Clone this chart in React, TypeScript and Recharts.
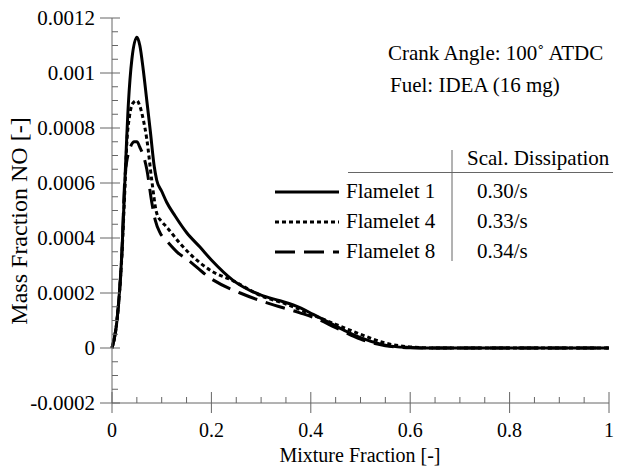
import React from 'react';
import { LineChart, Line, XAxis, YAxis } from 'recharts';

// Flamelet 1 (solid)
const flamelet1 = [
  { x: 0, y: 0 }, { x: 0.01, y: 0.0001 }, { x: 0.02, y: 0.00035 }, { x: 0.026, y: 0.00061 },
  { x: 0.033, y: 0.00089 }, { x: 0.04, y: 0.00105 }, { x: 0.05, y: 0.00113 }, { x: 0.056, y: 0.0011 },
  { x: 0.063, y: 0.00101 }, { x: 0.07, y: 0.0009 }, { x: 0.077, y: 0.00079 }, { x: 0.085, y: 0.00066 },
  { x: 0.09, y: 0.00061 }, { x: 0.1, y: 0.00057 }, { x: 0.11, y: 0.00053 }, { x: 0.127, y: 0.00048 },
  { x: 0.15, y: 0.00042 }, { x: 0.177, y: 0.000367 }, { x: 0.2, y: 0.00032 }, { x: 0.243, y: 0.000247 },
  { x: 0.3, y: 0.000192 }, { x: 0.338, y: 0.000172 }, { x: 0.378, y: 0.000147 }, { x: 0.405, y: 0.000122 },
  { x: 0.44, y: 0.00009 }, { x: 0.472, y: 0.00006 }, { x: 0.5, y: 0.000038 }, { x: 0.539, y: 0.000015 },
  { x: 0.57, y: 0.000005 }, { x: 0.6, y: 0.000002 }, { x: 0.65, y: 0 }, { x: 0.8, y: 0 }, { x: 1, y: 0 },
];

// Flamelet 4 (dotted)
const flamelet4 = [
  { x: 0, y: 0 }, { x: 0.01, y: 0.0001 }, { x: 0.02, y: 0.00034 }, { x: 0.026, y: 0.00058 },
  { x: 0.03, y: 0.00075 }, { x: 0.035, y: 0.00084 }, { x: 0.042, y: 0.00089 }, { x: 0.05, y: 0.0009 },
  { x: 0.056, y: 0.00088 }, { x: 0.063, y: 0.00083 }, { x: 0.07, y: 0.00076 }, { x: 0.08, y: 0.00061 },
  { x: 0.09, y: 0.00049 }, { x: 0.1, y: 0.00046 }, { x: 0.11, y: 0.00044 }, { x: 0.137, y: 0.00038 },
  { x: 0.177, y: 0.00031 }, { x: 0.2, y: 0.00028 }, { x: 0.243, y: 0.000245 }, { x: 0.3, y: 0.00019 },
  { x: 0.35, y: 0.00016 }, { x: 0.4, y: 0.000123 }, { x: 0.45, y: 0.000086 }, { x: 0.5, y: 0.00005 },
  { x: 0.55, y: 0.000018 }, { x: 0.6, y: 0.000004 }, { x: 0.65, y: 0 }, { x: 0.8, y: 0 }, { x: 1, y: 0 },
];

// Flamelet 8 (dashed)
const flamelet8 = [
  { x: 0, y: 0 }, { x: 0.01, y: 0.0001 }, { x: 0.02, y: 0.00035 }, { x: 0.026, y: 0.00062 },
  { x: 0.035, y: 0.00072 }, { x: 0.045, y: 0.00075 }, { x: 0.05, y: 0.00075 }, { x: 0.056, y: 0.00073 },
  { x: 0.063, y: 0.0007 }, { x: 0.07, y: 0.00065 }, { x: 0.08, y: 0.00053 }, { x: 0.087, y: 0.000465 },
  { x: 0.097, y: 0.000418 }, { x: 0.11, y: 0.00039 }, { x: 0.131, y: 0.000349 }, { x: 0.153, y: 0.00032 },
  { x: 0.197, y: 0.000255 }, { x: 0.258, y: 0.0002 }, { x: 0.312, y: 0.000164 }, { x: 0.378, y: 0.000128 },
  { x: 0.41, y: 0.000108 }, { x: 0.45, y: 0.000074 }, { x: 0.5, y: 0.000032 }, { x: 0.55, y: 0.000008 },
  { x: 0.6, y: 0.000001 }, { x: 0.65, y: 0 }, { x: 0.8, y: 0 }, { x: 1, y: 0 },
];

const xTicks = [0, 0.05, 0.1, 0.15, 0.2, 0.25, 0.3, 0.35, 0.4, 0.45, 0.5, 0.55, 0.6, 0.65, 0.7, 0.75, 0.8, 0.85, 0.9, 0.95, 1];
const xMajor = [0, 0.2, 0.4, 0.6, 0.8, 1];
const yTicks = [
  -0.0002, -0.00015, -0.0001, -0.00005, 0, 0.00005, 0.0001, 0.00015, 0.0002, 0.00025, 0.0003, 0.00035,
  0.0004, 0.00045, 0.0005, 0.00055, 0.0006, 0.00065, 0.0007, 0.00075, 0.0008, 0.00085, 0.0009, 0.00095,
  0.001, 0.00105, 0.0011, 0.00115, 0.0012,
];
const yMajor = [-0.0002, 0, 0.0002, 0.0004, 0.0006, 0.0008, 0.001, 0.0012];

const legendRows = [
  { name: 'Flamelet 1', rate: '0.30/s', dash: undefined },
  { name: 'Flamelet 4', rate: '0.33/s', dash: '4 3' },
  { name: 'Flamelet 8', rate: '0.34/s', dash: '20 9' },
];

const FONT = '"Liberation Serif", "Times New Roman", serif';
const AXIS = '#666';

const isMajor = (v: number, list: number[]) => list.some((m) => Math.abs(m - v) < 1e-9);
const fmtY = (v: number) => String(Number(v.toFixed(4)));

function BottomTick(props: any) {
  const { x, y, payload } = props;
  const major = isMajor(payload.value, xMajor);
  return (
    <g>
      <line x1={x} x2={x} y1={y - (major ? 11 : 6)} y2={y + (major ? 10 : 0)} stroke={AXIS} />
      {major && (
        <text x={x} y={y + 34} textAnchor="middle" fontSize={20} fontFamily={FONT} fill="#000">
          {String(payload.value)}
        </text>
      )}
    </g>
  );
}

function TopTick(props: any) {
  const { x, y, payload } = props;
  const major = isMajor(payload.value, xMajor);
  return <line x1={x} x2={x} y1={y - (major ? 11 : 0)} y2={y + (major ? 10 : 6)} stroke={AXIS} />;
}

function LeftTick(props: any) {
  const { x, y, payload } = props;
  const major = isMajor(payload.value, yMajor);
  return (
    <g>
      <line x1={x - (major ? 12 : 0)} x2={x + (major ? 8 : 6)} y1={y} y2={y} stroke={AXIS} />
      {major && (
        <text x={x - 17} y={y} dy="0.35em" textAnchor="end" fontSize={21} fontFamily={FONT} fill="#000">
          {fmtY(payload.value)}
        </text>
      )}
    </g>
  );
}

function RightTick(props: any) {
  const { x, y, payload } = props;
  const major = isMajor(payload.value, yMajor);
  return <line x1={x - (major ? 8 : 6)} x2={x + (major ? 12 : 0)} y1={y} y2={y} stroke={AXIS} />;
}

export default function App() {
  return (
    <div style={{ position: 'absolute', left: 0, top: 0, width: 634, height: 475, background: '#fff' }}>
      <LineChart width={634} height={475} margin={{ top: 18, right: 25, left: 0, bottom: 0 }}>
        <XAxis
          xAxisId="bottom" dataKey="x" type="number" domain={[0, 1]} ticks={xTicks} interval={0}
          height={72} tickSize={0} tickMargin={0} tickLine={false} axisLine={{ stroke: AXIS }} tick={<BottomTick />}
        />
        <XAxis
          xAxisId="top" orientation="top" dataKey="x" type="number" domain={[0, 1]} ticks={xTicks} interval={0}
          height={0} tickSize={0} tickMargin={0} tickLine={false} axisLine={{ stroke: AXIS }} tick={<TopTick />}
        />
        <YAxis
          yAxisId="left" type="number" domain={[-0.0002, 0.0012]} ticks={yTicks} interval={0}
          width={112} tickSize={0} tickMargin={0} tickLine={false} axisLine={{ stroke: AXIS }} tick={<LeftTick />}
        />
        <YAxis
          yAxisId="right" orientation="right" type="number" domain={[-0.0002, 0.0012]} ticks={yTicks} interval={0}
          width={0} tickSize={0} tickMargin={0} tickLine={false} axisLine={{ stroke: AXIS }} tick={<RightTick />}
        />
        <Line xAxisId="bottom" yAxisId="left" data={flamelet1} dataKey="y" type="monotone" stroke="#000"
          strokeWidth={3} dot={false} isAnimationActive={false} />
        <Line xAxisId="bottom" yAxisId="left" data={flamelet4} dataKey="y" type="monotone" stroke="#000"
          strokeWidth={3} strokeDasharray="4 3" dot={false} isAnimationActive={false} />
        <Line xAxisId="bottom" yAxisId="left" data={flamelet8} dataKey="y" type="monotone" stroke="#000"
          strokeWidth={3} strokeDasharray="20 9" dot={false} isAnimationActive={false} />
        <Line xAxisId="top" yAxisId="right" data={flamelet1} dataKey="y" stroke="none" dot={false}
          legendType="none" isAnimationActive={false} />
      </LineChart>

      {/* titles, annotations and the legend table */}
      <svg width={634} height={475} style={{ position: 'absolute', left: 0, top: 0, pointerEvents: 'none' }}
        fontFamily={FONT} fill="#000">
        <text x={360} y={462} textAnchor="middle" fontSize={20}>Mixture Fraction [-]</text>
        <text transform="translate(27, 221) rotate(-90)" textAnchor="middle" fontSize={24}>Mass Fraction NO [-]</text>
        <text x={388} y={60} fontSize={21}>Crank Angle: 100˚ ATDC</text>
        <text x={390} y={92} fontSize={21}>Fuel: IDEA (16 mg)</text>

        <text x={467} y={165} fontSize={21}>Scal. Dissipation</text>
        <line x1={348} x2={613} y1={172.5} y2={172.5} stroke={AXIS} />
        <line x1={452} x2={452} y1={150} y2={261} stroke={AXIS} />
        {legendRows.map((r, i) => (
          <g key={r.name}>
            <line x1={275} x2={339} y1={192 + i * 30} y2={192 + i * 30} stroke="#000" strokeWidth={3}
              strokeDasharray={r.dash} />
            <text x={346} y={198 + i * 30} fontSize={21}>{r.name}</text>
            <text x={477} y={198 + i * 30} fontSize={21}>{r.rate}</text>
          </g>
        ))}
      </svg>
    </div>
  );
}
